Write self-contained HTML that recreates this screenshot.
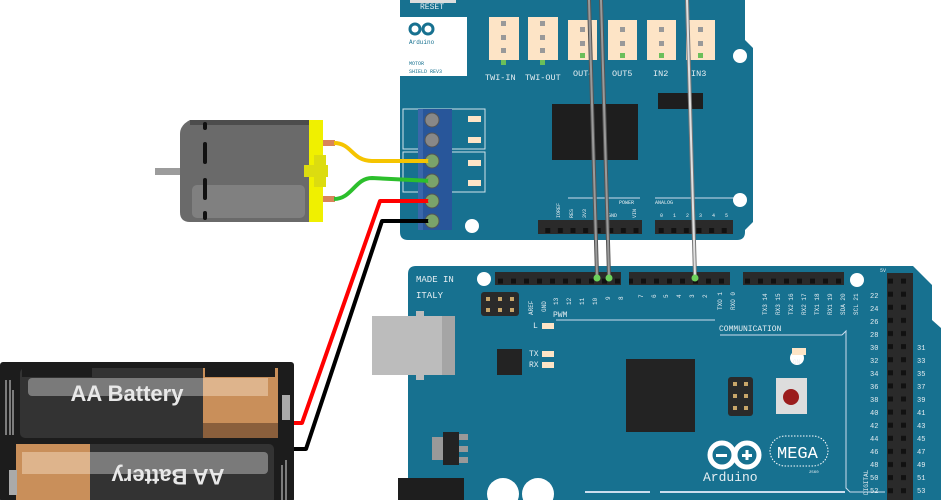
<!DOCTYPE html>
<html><head><meta charset="utf-8"><style>
html,body{margin:0;padding:0;background:#fff;width:941px;height:500px;overflow:hidden}
svg{display:block}
text{font-family:"Liberation Mono",monospace;fill:#e6eef2}
</style></head><body>
<svg width="941" height="500" viewBox="0 0 941 500" xmlns="http://www.w3.org/2000/svg">
<defs>
<pattern id="pin" x="0" y="0" width="12.6" height="14" patternUnits="userSpaceOnUse">
<rect x="3.5" y="4" width="5" height="5" fill="#111"/></pattern>
<pattern id="pinv" x="0" y="0" width="13" height="13.1" patternUnits="userSpaceOnUse">
<rect x="4" y="3.5" width="5" height="5" fill="#111"/></pattern>
</defs>

<!-- Motor shield -->
<path d="M400,0 H745 V40 L753,48 V222 L745,230 V232 Q745,240 737,240 H408 Q400,240 400,232 Z" fill="#177190"/>
<rect x="410" y="0" width="46" height="3" fill="#ddd"/>
<text x="420" y="9" font-size="8">RESET</text>
<rect x="400" y="17" width="67" height="59" fill="#fff"/>
<g fill="none" stroke="#177190" stroke-width="3"><circle cx="415" cy="29" r="5"/><circle cx="428" cy="29" r="5"/></g>
<text x="409" y="44" font-size="6" style="fill:#177190">Arduino</text>
<text x="409" y="65" font-size="5" style="fill:#177190">MOTOR</text>
<text x="409" y="73" font-size="5" style="fill:#177190">SHIELD REV3</text>
<g fill="#fde4c6">
<rect x="489" y="17" width="30" height="43"/><rect x="528" y="17" width="30" height="43"/>
<rect x="568" y="20" width="29" height="40"/><rect x="608" y="20" width="29" height="40"/>
<rect x="647" y="20" width="29" height="40"/><rect x="686" y="20" width="29" height="40"/>
</g>
<g fill="#999">
<rect x="501" y="21" width="5" height="5"/><rect x="501" y="35" width="5" height="5"/><rect x="501" y="48" width="5" height="5"/>
<rect x="540" y="21" width="5" height="5"/><rect x="540" y="35" width="5" height="5"/><rect x="540" y="48" width="5" height="5"/>
<rect x="580" y="27" width="5" height="5"/><rect x="580" y="41" width="5" height="5"/>
<rect x="620" y="27" width="5" height="5"/><rect x="620" y="41" width="5" height="5"/>
<rect x="659" y="27" width="5" height="5"/><rect x="659" y="41" width="5" height="5"/>
<rect x="698" y="27" width="5" height="5"/><rect x="698" y="41" width="5" height="5"/>
</g>
<g fill="#6bbf5a">
<rect x="501" y="60" width="5" height="5"/><rect x="540" y="60" width="5" height="5"/>
<rect x="580" y="53" width="5" height="5"/><rect x="620" y="53" width="5" height="5"/>
<rect x="659" y="53" width="5" height="5"/><rect x="698" y="53" width="5" height="5"/>
</g>
<g font-size="8.5"><text x="485" y="80">TWI-IN</text><text x="525" y="80">TWI-OUT</text>
<text x="573" y="76">OUT4</text><text x="612" y="76">OUT5</text><text x="653" y="76">IN2</text><text x="691" y="76">IN3</text></g>
<rect x="552" y="104" width="86" height="56" fill="#1e1e1e"/>
<rect x="658" y="93" width="45" height="16" fill="#1e1e1e"/>
<g fill="none" stroke="#d0e2ea" stroke-width="1"><rect x="403" y="109" width="82" height="40"/><rect x="403" y="152" width="82" height="40"/></g>
<g fill="#fde4c6"><rect x="468" y="116" width="13" height="6"/><rect x="468" y="137" width="13" height="6"/><rect x="468" y="160" width="13" height="6"/><rect x="468" y="180" width="13" height="6"/></g>
<rect x="418" y="109" width="34" height="121" fill="#28569a"/>
<rect x="418" y="109" width="5" height="121" fill="#3a67aa"/>
<g fill="#888" stroke="#555"><circle cx="432" cy="120" r="7"/><circle cx="432" cy="140" r="7"/></g>
<g fill="#7aa36a" stroke="#555"><circle cx="432" cy="161" r="7"/><circle cx="432" cy="181" r="7"/><circle cx="432" cy="201" r="7"/><circle cx="432" cy="221" r="7"/></g>
<line x1="568" y1="198" x2="640" y2="198" stroke="#cde" stroke-width="1"/>
<line x1="655" y1="198" x2="735" y2="198" stroke="#cde" stroke-width="1"/>
<text x="619" y="204" font-size="5">POWER</text><text x="655" y="204" font-size="5">ANALOG</text>
<g font-size="5" transform="rotate(-90)"><text x="-218" y="560">IOREF</text><text x="-218" y="573">RES</text><text x="-218" y="586">3V3</text><text x="-218" y="636">VIN</text></g>
<text x="608" y="217" font-size="5">GND</text>
<g font-size="5"><text x="660" y="217">0</text><text x="673" y="217">1</text><text x="686" y="217">2</text><text x="699" y="217">3</text><text x="712" y="217">4</text><text x="725" y="217">5</text></g>
<rect x="538" y="220" width="104" height="14" fill="#2a2a2a"/>
<rect x="538" y="220" width="104" height="14" fill="url(#pin)"/>
<rect x="655" y="220" width="78" height="14" fill="#2a2a2a"/>
<rect x="655" y="220" width="78" height="14" fill="url(#pin)"/>
<circle cx="472" cy="226" r="7" fill="#fff"/><circle cx="740" cy="56" r="7" fill="#fff"/><circle cx="740" cy="200" r="7" fill="#fff"/>

<!-- Mega -->
<path d="M416,266 H913 L932,285 V320 L941,328 V500 H408 V274 Q408,266 416,266 Z" fill="#177190"/>
<text x="416" y="282" font-size="9">MADE IN</text><text x="416" y="298" font-size="9">ITALY</text>
<rect x="495" y="272" width="126" height="13" fill="#2a2a2a"/><rect x="495" y="272" width="126" height="13" fill="url(#pinv)"/>
<rect x="629" y="272" width="101" height="13" fill="#2a2a2a"/><rect x="629" y="272" width="101" height="13" fill="url(#pinv)"/>
<rect x="743" y="272" width="101" height="13" fill="#2a2a2a"/><rect x="743" y="272" width="101" height="13" fill="url(#pinv)"/>
<rect x="887" y="273" width="26" height="227" fill="#2a2a2a"/><rect x="887" y="273" width="26" height="227" fill="url(#pinv)"/>
<circle cx="484" cy="279" r="7" fill="#fff"/><circle cx="857" cy="280" r="7" fill="#fff"/>
<circle cx="797" cy="358" r="7" fill="#fff"/>
<rect x="481" y="292" width="38" height="24" rx="3" fill="#2a2a2a"/>
<g fill="#c8a66a"><rect x="486" y="297" width="4" height="4"/><rect x="498" y="297" width="4" height="4"/><rect x="510" y="297" width="4" height="4"/><rect x="486" y="308" width="4" height="4"/><rect x="498" y="308" width="4" height="4"/><rect x="510" y="308" width="4" height="4"/></g>
<g font-size="6" transform="rotate(-90)">
<text x="-315" y="533">AREF</text><text x="-312" y="546">GND</text><text x="-305" y="558">13</text><text x="-305" y="571">12</text><text x="-305" y="584">11</text><text x="-305" y="597">10</text><text x="-300" y="610">9</text><text x="-300" y="623">8</text>
<text x="-298" y="643">7</text><text x="-298" y="656">6</text><text x="-298" y="668">5</text><text x="-298" y="681">4</text><text x="-298" y="694">3</text><text x="-298" y="707">2</text><text x="-310" y="722">TXO 1</text><text x="-310" y="735">RXO 0</text>
<text x="-315" y="767">TX3 14</text><text x="-315" y="780">RX3 15</text><text x="-315" y="793">TX2 16</text><text x="-315" y="806">RX2 17</text><text x="-315" y="819">TX1 18</text><text x="-315" y="832">RX1 19</text><text x="-315" y="845">SDA 20</text><text x="-315" y="858">SCL 21</text>
<text x="-495" y="868">DIGITAL</text></g>
<text x="553" y="317" font-size="8">PWM</text>
<line x1="556" y1="320" x2="715" y2="320" stroke="#cde"/>
<text x="719" y="331" font-size="8">COMMUNICATION</text>
<line x1="720" y1="335" x2="842" y2="335" stroke="#cde"/>
<path d="M842,335 L846,331 V488 L850,492 H885" fill="none" stroke="#cde"/>
<text x="533" y="328" font-size="8">L</text><rect x="542" y="323" width="12" height="6" fill="#fde4c6"/>
<text x="529" y="356" font-size="8">TX</text><rect x="542" y="351" width="12" height="6" fill="#fde4c6"/>
<text x="529" y="367" font-size="8">RX</text><rect x="542" y="362" width="12" height="6" fill="#fde4c6"/>
<rect x="497" y="349" width="25" height="26" fill="#232323"/>
<rect x="626" y="359" width="69" height="73" fill="#232323"/>
<rect x="792" y="348" width="14" height="7" fill="#fde4c6"/><text x="793" y="364" font-size="6">ON</text>
<rect x="728" y="377" width="25" height="39" rx="3" fill="#2a2a2a"/>
<g fill="#c8a66a"><rect x="733" y="382" width="4" height="4"/><rect x="744" y="382" width="4" height="4"/><rect x="733" y="394" width="4" height="4"/><rect x="744" y="394" width="4" height="4"/><rect x="733" y="406" width="4" height="4"/><rect x="744" y="406" width="4" height="4"/></g>
<rect x="776" y="378" width="31" height="36" fill="#ddd"/>
<circle cx="791" cy="397" r="8" fill="#9b1c1c"/>
<rect x="372" y="316" width="83" height="59" fill="#bcbcbc"/><rect x="442" y="316" width="13" height="59" fill="#a5a5a5"/>
<rect x="416" y="311" width="8" height="6" fill="#bcbcbc"/><rect x="416" y="374" width="8" height="6" fill="#bcbcbc"/>
<rect x="443" y="432" width="16" height="33" fill="#232323"/><rect x="432" y="437" width="11" height="23" fill="#999"/>
<g fill="#999"><rect x="459" y="434" width="9" height="6"/><rect x="459" y="446" width="9" height="6"/><rect x="459" y="457" width="9" height="6"/></g>
<rect x="398" y="478" width="66" height="22" fill="#1e1e1e"/>
<circle cx="503" cy="494" r="16" fill="#fff"/><circle cx="538" cy="494" r="16" fill="#fff"/>
<line x1="585" y1="492" x2="650" y2="492" stroke="#cde" stroke-width="2"/><line x1="660" y1="492" x2="845" y2="492" stroke="#cde" stroke-width="2"/>
<!-- Arduino logo -->
<circle cx="722" cy="455" r="12" fill="none" stroke="#fff" stroke-width="5"/>
<circle cx="747" cy="455" r="12" fill="none" stroke="#fff" stroke-width="5"/>
<rect x="716" y="454" width="11" height="3" fill="#fff"/>
<rect x="742" y="454" width="10" height="3" fill="#fff"/><rect x="745.5" y="450" width="3" height="10" fill="#fff"/>
<text x="703" y="481" font-size="13">Arduino</text>
<rect x="770" y="436" width="58" height="30" rx="15" fill="none" stroke="#fff" stroke-dasharray="1.5,1.5"/>
<text x="777" y="458" font-size="17" style="fill:#fff">MEGA</text>
<text x="809" y="473" font-size="4">2560</text>
<g font-size="7">
<text x="870" y="298">22</text><text x="870" y="311">24</text><text x="870" y="324">26</text><text x="870" y="337">28</text>
<text x="870" y="350">30</text><text x="870" y="363">32</text><text x="870" y="376">34</text><text x="870" y="389">36</text><text x="870" y="402">38</text><text x="870" y="415">40</text><text x="870" y="428">42</text><text x="870" y="441">44</text><text x="870" y="454">46</text><text x="870" y="467">48</text><text x="870" y="480">50</text><text x="870" y="493">52</text>
<text x="917" y="350">31</text><text x="917" y="363">33</text><text x="917" y="376">35</text><text x="917" y="389">37</text><text x="917" y="402">39</text><text x="917" y="415">41</text><text x="917" y="428">43</text><text x="917" y="441">45</text><text x="917" y="454">47</text><text x="917" y="467">49</text><text x="917" y="480">51</text><text x="917" y="493">53</text>
<text x="880" y="272" font-size="5">5V</text></g>

<!-- jumper wires -->
<g fill="none" stroke-linecap="round">
<path d="M589,0 L597,276" stroke="#555" stroke-width="4"/><path d="M589,0 L597,276" stroke="#9a9a9a" stroke-width="2"/>
<path d="M601,0 L609,276" stroke="#555" stroke-width="4"/><path d="M601,0 L609,276" stroke="#9a9a9a" stroke-width="2"/>
<path d="M687,0 L695,276" stroke="#777" stroke-width="4"/><path d="M687,0 L695,276" stroke="#e0e0e0" stroke-width="2"/>
</g>
<g fill="#6bd15a"><circle cx="597" cy="278" r="3.5"/><circle cx="609" cy="278" r="3.5"/><circle cx="695" cy="278" r="3.5"/></g>

<!-- Motor -->
<rect x="155" y="168" width="26" height="7" fill="#9c9c9c"/>
<path d="M190,120 H310 V222 H190 Q180,222 180,212 V134 Q180,125 190,120 Z" fill="#6a6a6a"/>
<rect x="190" y="120" width="120" height="5" fill="#4c4c4c"/>
<rect x="192" y="185" width="113" height="33" rx="5" fill="#808080"/>
<g fill="#111"><rect x="203" y="122" width="4" height="8" rx="2"/><rect x="203" y="142" width="4" height="22" rx="2"/><rect x="203" y="178" width="4" height="22" rx="2"/><rect x="203" y="211" width="4" height="9" rx="2"/></g>
<rect x="309" y="120" width="14" height="102" fill="#f0f000"/>
<rect x="304" y="165" width="24" height="12" fill="#dcdc10"/><rect x="314" y="155" width="12" height="32" fill="#dcdc10"/>
<rect x="323" y="140" width="12" height="6" fill="#d8845a"/><rect x="323" y="196" width="12" height="6" fill="#d8845a"/>

<!-- motor/battery wires -->
<g fill="none" stroke-linejoin="round">
<path d="M334,143 C352,143 352,161 372,161 H432" stroke="#f5c400" stroke-width="4"/>
<path d="M334,199 C352,199 355,178 372,178 L432,181" stroke="#2cbf2c" stroke-width="4"/>
<path d="M432,201 H380 L302,423 H293" stroke="#ff0000" stroke-width="4"/>
<path d="M432,221 H382 L306,449 H293" stroke="#000" stroke-width="4"/>
</g>
<g fill="#7aa36a"><circle cx="432" cy="161" r="4"/><circle cx="432" cy="181" r="4"/><circle cx="432" cy="201" r="4"/><circle cx="432" cy="221" r="4"/></g>

<!-- Battery holder -->
<rect x="0" y="362" width="294" height="140" rx="3" fill="#1c1c1c"/>
<rect x="20" y="368" width="258" height="70" rx="5" fill="#333"/>
<rect x="203" y="368" width="75" height="70" fill="#c98f5a"/>
<rect x="28" y="378" width="240" height="18" rx="4" fill="#7a7a7a"/>
<rect x="203" y="378" width="65" height="18" fill="#deb48c"/>
<rect x="203" y="423" width="75" height="15" fill="#8a5f3c"/>
<rect x="22" y="368" width="70" height="9" fill="#1c1c1c"/><rect x="205" y="368" width="70" height="9" fill="#1c1c1c"/>
<text x="127" y="401" text-anchor="middle" font-size="22" style="font-family:'Liberation Sans',sans-serif;font-weight:bold;fill:#e8e8e8">AA Battery</text>
<rect x="16" y="444" width="258" height="60" rx="5" fill="#333"/>
<rect x="22" y="452" width="246" height="22" rx="4" fill="#7a7a7a"/>
<rect x="16" y="444" width="74" height="60" fill="#c98f5a"/>
<rect x="22" y="452" width="68" height="22" fill="#deb48c"/>
<text x="0" y="0" text-anchor="middle" font-size="22" transform="translate(168,469) rotate(180)" style="font-family:'Liberation Sans',sans-serif;font-weight:bold;fill:#e8e8e8">AA Battery</text>
<rect x="282" y="395" width="8" height="25" fill="#aaa"/><rect x="9" y="470" width="8" height="25" fill="#aaa"/>
<path d="M6,380 V435 M10,380 V435 M13,390 V435 M282,465 V500 M286,460 V500" stroke="#ddd" stroke-width="1" fill="none"/>
</svg>
</body></html>
